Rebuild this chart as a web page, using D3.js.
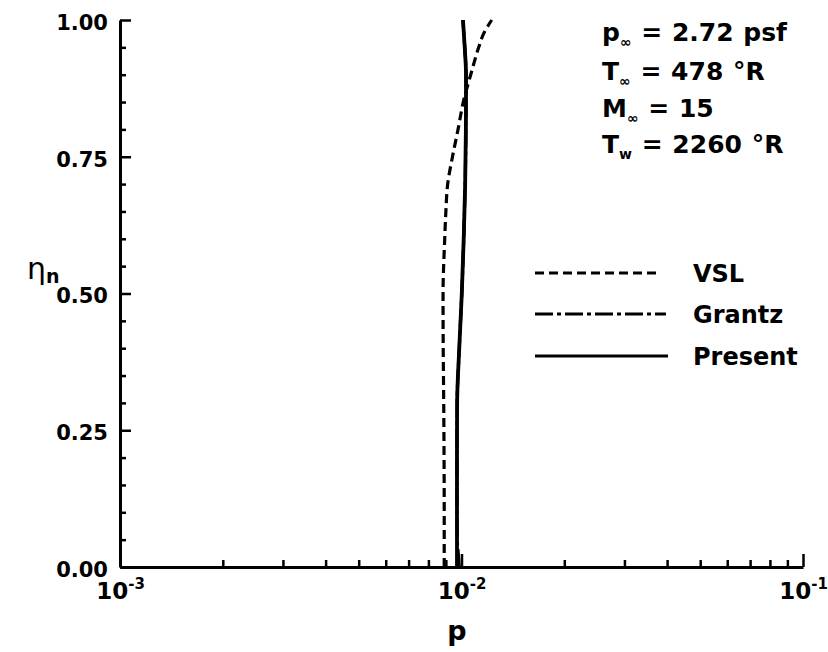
<!DOCTYPE html>
<html>
<head>
<meta charset="utf-8">
<script src="https://cdn.jsdelivr.net/npm/d3@7"></script>
<style>
  html, body { margin: 0; padding: 0; background: #fff; }
  svg { display: block; }
  text { font-family: "DejaVu Sans", sans-serif; font-weight: bold; fill: #000; }
</style>
</head>
<body>
<svg id="chart" width="828" height="652"></svg>
<script>
// ---- data ----
const etaVSL = [0, 0.1, 0.2, 0.3, 0.4, 0.5, 0.6, 0.65, 0.7, 0.75, 0.8, 0.85, 0.9, 0.95, 0.975, 1.0];
const pVSL   = [0.00890, 0.00890, 0.00889, 0.00887, 0.00884, 0.00883, 0.00893, 0.00900, 0.00911, 0.00941, 0.00977, 0.01012, 0.01064, 0.01123, 0.01161, 0.01226];

const etaGrantz = [0, 0.02, 0.05, 0.1, 0.2, 0.3, 0.4, 0.5, 0.6, 0.7, 0.8, 0.9, 0.95, 1.0];
const pGrantz   = [0.00985, 0.00980, 0.00972, 0.00970, 0.00970, 0.00971, 0.00985, 0.01002, 0.01015, 0.01025, 0.01030, 0.01031, 0.01022, 0.01010];

const etaPresent = [0, 0.1, 0.2, 0.3, 0.4, 0.5, 0.6, 0.7, 0.8, 0.9, 0.95, 1.0];
const pPresent   = [0.00970, 0.00970, 0.00970, 0.00971, 0.00985, 0.01002, 0.01015, 0.01025, 0.01030, 0.01031, 0.01022, 0.01010];

const yMajorTicks = [0, 0.25, 0.5, 0.75, 1.0];
const yTickLabels = ["0.00", "0.25", "0.50", "0.75", "1.00"];
const xMajorTicks = [1e-3, 1e-2, 1e-1];
const xTickExponents = ["-3", "-2", "-1"];
const legendNames = ["VSL", "Grantz", "Present"];
const conditions = [
  {base: "p", sub: "\u221E", rest: " = 2.72  psf"},
  {base: "T", sub: "\u221E", rest: " = 478 \u00B0R"},
  {base: "M", sub: "\u221E", rest: " = 15"},
  {base: "T", sub: "w", rest: " = 2260 \u00B0R"}
];

// ---- layout ----
const svg = d3.select("#chart");
const X0 = 120, X1 = 803, Y0 = 567, Y1 = 20;
const x = d3.scaleLog().domain([1e-3, 1e-1]).range([X0, X1]);
const y = d3.scaleLinear().domain([0, 1]).range([Y0, Y1]);

// minor tick values
const yMinor = d3.range(1, 20).map(i => i * 0.05).filter(v => Math.abs(v * 4 - Math.round(v * 4)) > 1e-6);
const xMinor = [];
[1e-3, 1e-2].forEach(dec => { for (let k = 2; k <= 9; k++) xMinor.push(k * dec); });

// y-axis
const gy = svg.append("g").attr("transform", `translate(${X0},0)`);
gy.call(d3.axisLeft(y).tickValues(yMajorTicks).tickSize(-11).tickSizeOuter(0)
  .tickPadding(12).tickFormat((d, i) => yTickLabels[i]));
gy.selectAll("text").attr("font-size", 21).attr("dy", "0.45em")
  .style("font-family", "DejaVu Sans").style("font-weight", "bold");
const gyMinor = svg.append("g").attr("transform", `translate(${X0},0)`);
gyMinor.call(d3.axisLeft(y).tickValues(yMinor).tickSize(-6).tickSizeOuter(0).tickFormat(""));
gyMinor.select(".domain").remove();

// x-axis
const gx = svg.append("g").attr("transform", `translate(0,${Y0})`);
gx.call(d3.axisBottom(x).tickValues(xMajorTicks).tickSize(-13).tickSizeOuter(0).tickPadding(22).tickFormat(""));
gx.selectAll(".tick text").each(function(d, i) {
  const t = d3.select(this).text(null).attr("font-size", 23).attr("dy", "0.45em")
    .style("font-family", "DejaVu Sans").style("font-weight", "bold");
  t.append("tspan").text("10");
  t.append("tspan").attr("font-size", 15).attr("dy", "-0.7em").text(xTickExponents[i]);
});
const gxMinor = svg.append("g").attr("transform", `translate(0,${Y0})`);
gxMinor.call(d3.axisBottom(x).tickValues(xMinor).tickSize(-7).tickSizeOuter(0).tickFormat(""));
gxMinor.select(".domain").remove();

svg.selectAll(".domain").attr("stroke", "#000").attr("stroke-width", 3);
svg.selectAll(".tick line").attr("stroke", "#000").attr("stroke-width", 2.5);

// axis titles
svg.append("text").attr("x", 457).attr("y", 640).attr("text-anchor", "middle")
  .attr("font-size", 27).text("p");
const eta = svg.append("text").attr("x", 27).attr("y", 279).attr("font-size", 30);
eta.append("tspan").style("font-weight", "normal").text("\u03B7");
eta.append("tspan").attr("font-size", 19).attr("dy", "0.2em").text("n");

// curves
const line = d3.line().x(d => x(d.p)).y(d => y(d.eta)).curve(d3.curveMonotoneY);
const seriesVSL = etaVSL.map((e, i) => ({eta: e, p: pVSL[i]}));
const seriesGrantz = etaGrantz.map((e, i) => ({eta: e, p: pGrantz[i]}));
const seriesPresent = etaPresent.map((e, i) => ({eta: e, p: pPresent[i]}));

const styles = [
  {dash: "9,5", width: 3.2},
  {dash: "18,4,4,4", width: 3.2},
  {dash: null, width: 3.8}
];
[seriesVSL, seriesGrantz, seriesPresent].forEach((s, i) => {
  svg.append("path").datum(s).attr("d", line).attr("fill", "none")
    .attr("stroke", "#000").attr("stroke-width", styles[i].width)
    .attr("stroke-dasharray", styles[i].dash);
});

// legend
const legendY = [273, 314, 356];
const legendEnd = [658, 666, 668];
legendNames.forEach((name, i) => {
  svg.append("line").attr("x1", 535).attr("x2", legendEnd[i]).attr("y1", legendY[i]).attr("y2", legendY[i])
    .attr("stroke", "#000").attr("stroke-width", 3.2).attr("stroke-dasharray", styles[i].dash);
  svg.append("text").attr("x", 693).attr("y", legendY[i] + 9).attr("font-size", 24).text(name);
});

// conditions
const condY = [41, 80, 117, 153];
conditions.forEach((c, i) => {
  const t = svg.append("text").attr("x", 602).attr("y", condY[i]).attr("font-size", 25)
    .style("word-spacing", "1px");
  t.append("tspan").text(c.base);
  t.append("tspan").attr("font-size", 14).attr("dy", "0.4em").text(c.sub);
  t.append("tspan").attr("dy", "-0.224em").text(c.rest);
});
</script>
</body>
</html>
